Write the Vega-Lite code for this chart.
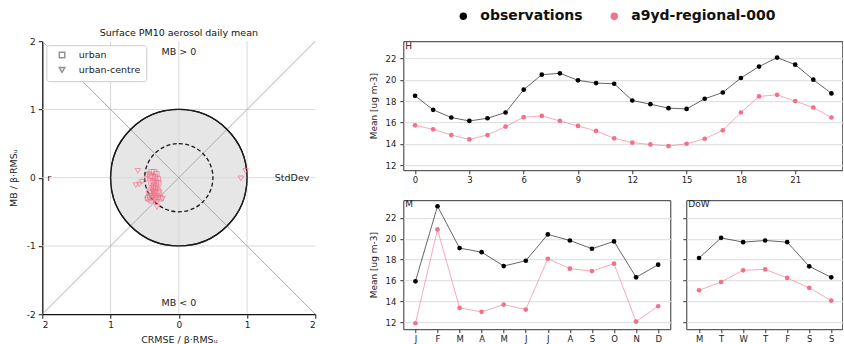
{
  "$schema": "https://vega.github.io/schema/vega-lite/v6.json",
  "padding": {"left": 8.3, "top": 9.2, "right": 0, "bottom": 0},
  "background": "white",
  "config": {
    "font": "DejaVu Sans",
    "axis": {"labelFontSize": 8.5, "titleFontSize": 9, "titleFontWeight": "normal", "labelColor": "#222", "titleColor": "#222", "tickColor": "#333", "domainColor": "#333", "tickSize": 3.5, "labelPadding": 2},
    "view": {"stroke": "#333", "strokeWidth": 1},
    "title": {"font": "DejaVu Sans", "fontWeight": "normal", "color": "#111"}
  },
  "datasets": {
    "hour": [
      {"h": 0, "series": "observations", "v": 18.51}, {"h": 1, "series": "observations", "v": 17.19}, {"h": 2, "series": "observations", "v": 16.47}, {"h": 3, "series": "observations", "v": 16.15}, {"h": 4, "series": "observations", "v": 16.40}, {"h": 5, "series": "observations", "v": 16.94}, {"h": 6, "series": "observations", "v": 19.08}, {"h": 7, "series": "observations", "v": 20.49}, {"h": 8, "series": "observations", "v": 20.62}, {"h": 9, "series": "observations", "v": 19.96}, {"h": 10, "series": "observations", "v": 19.70}, {"h": 11, "series": "observations", "v": 19.64}, {"h": 12, "series": "observations", "v": 18.07}, {"h": 13, "series": "observations", "v": 17.72}, {"h": 14, "series": "observations", "v": 17.35}, {"h": 15, "series": "observations", "v": 17.28}, {"h": 16, "series": "observations", "v": 18.23}, {"h": 17, "series": "observations", "v": 18.82}, {"h": 18, "series": "observations", "v": 20.18}, {"h": 19, "series": "observations", "v": 21.25}, {"h": 20, "series": "observations", "v": 22.09}, {"h": 21, "series": "observations", "v": 21.43}, {"h": 22, "series": "observations", "v": 20.02}, {"h": 23, "series": "observations", "v": 18.73},
      {"h": 0, "series": "a9yd-regional-000", "v": 15.74}, {"h": 1, "series": "a9yd-regional-000", "v": 15.36}, {"h": 2, "series": "a9yd-regional-000", "v": 14.83}, {"h": 3, "series": "a9yd-regional-000", "v": 14.42}, {"h": 4, "series": "a9yd-regional-000", "v": 14.83}, {"h": 5, "series": "a9yd-regional-000", "v": 15.62}, {"h": 6, "series": "a9yd-regional-000", "v": 16.50}, {"h": 7, "series": "a9yd-regional-000", "v": 16.62}, {"h": 8, "series": "a9yd-regional-000", "v": 16.15}, {"h": 9, "series": "a9yd-regional-000", "v": 15.68}, {"h": 10, "series": "a9yd-regional-000", "v": 15.21}, {"h": 11, "series": "a9yd-regional-000", "v": 14.52}, {"h": 12, "series": "a9yd-regional-000", "v": 14.11}, {"h": 13, "series": "a9yd-regional-000", "v": 13.95}, {"h": 14, "series": "a9yd-regional-000", "v": 13.79}, {"h": 15, "series": "a9yd-regional-000", "v": 14.01}, {"h": 16, "series": "a9yd-regional-000", "v": 14.48}, {"h": 17, "series": "a9yd-regional-000", "v": 15.27}, {"h": 18, "series": "a9yd-regional-000", "v": 16.94}, {"h": 19, "series": "a9yd-regional-000", "v": 18.45}, {"h": 20, "series": "a9yd-regional-000", "v": 18.60}, {"h": 21, "series": "a9yd-regional-000", "v": 18.01}, {"h": 22, "series": "a9yd-regional-000", "v": 17.41}, {"h": 23, "series": "a9yd-regional-000", "v": 16.47}
    ],
    "month": [
      {"m": 0, "series": "observations", "v": 15.92}, {"m": 1, "series": "observations", "v": 23.11}, {"m": 2, "series": "observations", "v": 19.10}, {"m": 3, "series": "observations", "v": 18.71}, {"m": 4, "series": "observations", "v": 17.38}, {"m": 5, "series": "observations", "v": 17.89}, {"m": 6, "series": "observations", "v": 20.41}, {"m": 7, "series": "observations", "v": 19.83}, {"m": 8, "series": "observations", "v": 19.04}, {"m": 9, "series": "observations", "v": 19.74}, {"m": 10, "series": "observations", "v": 16.30}, {"m": 11, "series": "observations", "v": 17.51},
      {"m": 0, "series": "a9yd-regional-000", "v": 11.90}, {"m": 1, "series": "a9yd-regional-000", "v": 20.89}, {"m": 2, "series": "a9yd-regional-000", "v": 13.37}, {"m": 3, "series": "a9yd-regional-000", "v": 12.99}, {"m": 4, "series": "a9yd-regional-000", "v": 13.69}, {"m": 5, "series": "a9yd-regional-000", "v": 13.21}, {"m": 6, "series": "a9yd-regional-000", "v": 18.08}, {"m": 7, "series": "a9yd-regional-000", "v": 17.13}, {"m": 8, "series": "a9yd-regional-000", "v": 16.90}, {"m": 9, "series": "a9yd-regional-000", "v": 17.61}, {"m": 10, "series": "a9yd-regional-000", "v": 12.06}, {"m": 11, "series": "a9yd-regional-000", "v": 13.53}
    ],
    "dow": [
      {"d": 0, "series": "observations", "v": 18.15}, {"d": 1, "series": "observations", "v": 20.08}, {"d": 2, "series": "observations", "v": 19.67}, {"d": 3, "series": "observations", "v": 19.83}, {"d": 4, "series": "observations", "v": 19.67}, {"d": 5, "series": "observations", "v": 17.35}, {"d": 6, "series": "observations", "v": 16.30},
      {"d": 0, "series": "a9yd-regional-000", "v": 15.06}, {"d": 1, "series": "a9yd-regional-000", "v": 15.85}, {"d": 2, "series": "a9yd-regional-000", "v": 16.97}, {"d": 3, "series": "a9yd-regional-000", "v": 17.06}, {"d": 4, "series": "a9yd-regional-000", "v": 16.24}, {"d": 5, "series": "a9yd-regional-000", "v": 15.29}, {"d": 6, "series": "a9yd-regional-000", "v": 14.07}
    ],
    "circles": [{"r": 1, "kind": "solid"}, {"r": 0.5, "kind": "dashed"}],
    "grid": [
      {"x": -1, "x2": -1, "y": -2, "y2": 2}, {"x": 0, "x2": 0, "y": -2, "y2": 2}, {"x": 1, "x2": 1, "y": -2, "y2": 2},
      {"x": -2, "x2": 2, "y": -1, "y2": -1}, {"x": -2, "x2": 2, "y": 0, "y2": 0}, {"x": -2, "x2": 2, "y": 1, "y2": 1}
    ],
    "diag": [{"x": -2, "x2": 2, "y": -2, "y2": 2}, {"x": -2, "x2": 2, "y": 2, "y2": -2}],
    "labels": [{"t": "MB > 0", "x": 0, "y": 1.84}, {"t": "MB < 0", "x": 0, "y": -1.84}, {"t": "r", "x": -1.9, "y": 0}, {"t": "StdDev", "x": 1.66, "y": 0}],
    "target": [
      {"type": "urban", "x": -0.40, "y": 0.08}, {"type": "urban", "x": -0.36, "y": 0.08}, {"type": "urban", "x": -0.33, "y": 0.05}, {"type": "urban", "x": -0.42, "y": 0.03}, {"type": "urban", "x": -0.38, "y": 0.02}, {"type": "urban", "x": -0.35, "y": 0.0}, {"type": "urban", "x": -0.31, "y": -0.02}, {"type": "urban", "x": -0.37, "y": -0.05}, {"type": "urban", "x": -0.34, "y": -0.07}, {"type": "urban", "x": -0.40, "y": -0.08}, {"type": "urban", "x": -0.30, "y": -0.08}, {"type": "urban", "x": -0.36, "y": -0.11}, {"type": "urban", "x": -0.33, "y": -0.13}, {"type": "urban", "x": -0.38, "y": -0.15}, {"type": "urban", "x": -0.35, "y": -0.17}, {"type": "urban", "x": -0.41, "y": -0.19}, {"type": "urban", "x": -0.31, "y": -0.19}, {"type": "urban", "x": -0.36, "y": -0.21}, {"type": "urban", "x": -0.43, "y": -0.22}, {"type": "urban", "x": -0.33, "y": -0.23}, {"type": "urban", "x": -0.39, "y": -0.25}, {"type": "urban", "x": -0.29, "y": -0.22}, {"type": "urban", "x": -0.35, "y": -0.27}, {"type": "urban", "x": -0.42, "y": -0.28}, {"type": "urban", "x": -0.31, "y": -0.28}, {"type": "urban", "x": -0.37, "y": -0.30}, {"type": "urban", "x": -0.45, "y": -0.30}, {"type": "urban", "x": -0.27, "y": -0.30}, {"type": "urban", "x": -0.33, "y": -0.32}, {"type": "urban", "x": -0.40, "y": -0.33},
      {"type": "urban-centre", "x": -0.60, "y": 0.10}, {"type": "urban-centre", "x": -0.63, "y": -0.11}, {"type": "urban-centre", "x": -0.58, "y": -0.10}, {"type": "urban-centre", "x": -0.54, "y": -0.06}, {"type": "urban-centre", "x": -0.47, "y": -0.02}, {"type": "urban-centre", "x": 0.91, "y": -0.01}, {"type": "urban-centre", "x": 0.98, "y": 0.10}, {"type": "urban-centre", "x": -0.32, "y": -0.43}, {"type": "urban-centre", "x": -0.46, "y": -0.32}, {"type": "urban-centre", "x": -0.24, "y": -0.31}, {"type": "urban-centre", "x": -0.44, "y": 0.05}, {"type": "urban-centre", "x": -0.38, "y": -0.20}
    ]
  },
  "bounds": "flush",
  "spacing": 88,
  "resolve": {"scale": {"color": "independent", "shape": "independent"}},
  "hconcat": [
    {
      "width": 273, "height": 273,
      "view": {"stroke": null},
      "title": {"text": "Surface PM10 aerosol daily mean", "fontSize": 9.5, "offset": 0, "anchor": "middle"},
      "layer": [
        {
          "data": {"name": "circles"},
          "transform": [{"filter": "datum.kind === 'solid'"}],
          "mark": {"type": "arc", "theta": 0, "theta2": 6.2832, "fill": "#e6e6e6", "stroke": "#1a1a1a", "strokeWidth": 1.3},
          "encoding": {"radius": {"field": "r", "type": "quantitative", "scale": {"type": "linear", "domain": [0, 2], "range": [0, 136.5], "zero": true}}}
        },
        {
          "data": {"name": "grid"},
          "mark": {"type": "rule", "color": "#d9d9d9", "strokeWidth": 1},
          "encoding": {
            "x": {"field": "x", "type": "quantitative", "scale": {"domain": [-2, 2], "nice": false, "zero": false},
              "axis": {"values": [-2, -1, 0, 1, 2], "labelExpr": "'' + abs(datum.value)", "title": "CRMSE / β·RMSᵤ", "grid": false, "domainColor": "#111", "domainWidth": 1.3, "tickColor": "#111", "tickSize": 4, "labelPadding": 2, "titlePadding": 5, "labelFontSize": 9, "titleFontSize": 9.5}},
            "x2": {"field": "x2"},
            "y": {"field": "y", "type": "quantitative", "scale": {"domain": [-2, 2], "nice": false, "zero": false},
              "axis": {"values": [-2, -1, 0, 1, 2], "labelExpr": "'' + datum.value", "title": "MB / β·RMSᵤ", "grid": false, "domainColor": "#111", "domainWidth": 1.3, "tickColor": "#111", "tickSize": 4, "labelPadding": 3, "titlePadding": 8, "labelFontSize": 9, "titleFontSize": 9.5}},
            "y2": {"field": "y2"}
          }
        },
        {
          "data": {"name": "diag"},
          "mark": {"type": "rule", "color": "#aaaaaa", "strokeWidth": 1},
          "encoding": {"x": {"field": "x", "type": "quantitative"}, "x2": {"field": "x2"}, "y": {"field": "y", "type": "quantitative"}, "y2": {"field": "y2"}}
        },
        {
          "data": {"name": "circles"},
          "transform": [{"filter": "datum.kind === 'solid'"}],
          "mark": {"type": "arc", "theta": 0, "theta2": 6.2832, "filled": false, "color": "#1a1a1a", "strokeWidth": 1.3},
          "encoding": {"radius": {"field": "r", "type": "quantitative"}}
        },
        {
          "data": {"name": "circles"},
          "transform": [{"filter": "datum.kind === 'dashed'"}],
          "mark": {"type": "arc", "theta": 0, "theta2": 6.2832, "filled": false, "color": "#1a1a1a", "strokeWidth": 1.3, "strokeDash": [4, 2.5]},
          "encoding": {"radius": {"field": "r", "type": "quantitative"}}
        },
        {
          "data": {"name": "labels"},
          "mark": {"type": "text", "fontSize": 9.5, "color": "#222", "align": "center", "baseline": "middle"},
          "encoding": {"x": {"field": "x", "type": "quantitative"}, "y": {"field": "y", "type": "quantitative"}, "text": {"field": "t"}}
        },
        {
          "data": {"name": "target"},
          "mark": {"type": "point", "filled": false, "color": "#f2718a", "size": 30, "strokeWidth": 1},
          "encoding": {
            "x": {"field": "x", "type": "quantitative"},
            "y": {"field": "y", "type": "quantitative"},
            "shape": {"field": "type", "type": "nominal", "scale": {"domain": ["urban", "urban-centre"], "range": ["square", "triangle-down"]},
              "legend": {"orient": "top-left", "title": null, "offset": 4, "fillColor": "white", "strokeColor": "#cccccc", "cornerRadius": 3, "padding": 5, "labelFontSize": 9.5, "labelColor": "#222", "symbolSize": 30, "symbolOffset": 6, "labelOffset": 12, "rowPadding": 3, "symbolStrokeColor": "#666", "symbolFillColor": "transparent"}}
          }
        }
      ]
    },
    {
      "bounds": "flush",
      "spacing": 30,
      "vconcat": [
        {
          "width": 439, "height": 129,
          "data": {"name": "hour"},
          "title": {"text": "H", "anchor": "start", "frame": "group", "offset": -9.5, "fontSize": 9, "dx": 2, "color": "#222"},
          "encoding": {
            "x": {"field": "h", "type": "quantitative", "scale": {"domain": [-0.65, 23.6], "nice": false, "zero": false},
              "axis": {"values": [0, 3, 6, 9, 12, 15, 18, 21], "title": null, "grid": false, "domain": false, "labelPadding": 2}},
            "y": {"field": "v", "type": "quantitative", "scale": {"domain": [11.53, 23.63], "nice": false, "zero": false},
              "axis": {"values": [12, 14, 16, 18, 20, 22], "title": "Mean [ug m-3]", "grid": true, "gridColor": "#e3e3e3", "gridWidth": 1.2, "domain": false, "labelPadding": 4, "titlePadding": 6}},
            "color": {"field": "series", "type": "nominal", "scale": {"domain": ["observations", "a9yd-regional-000"], "range": ["#000000", "#f2718a"]},
              "legend": {"orient": "none", "legendX": 53, "legendY": -32, "direction": "horizontal", "title": null, "labelFontSize": 14, "labelFontWeight": "bold", "labelColor": "#111", "symbolSize": 55, "symbolType": "circle", "symbolOpacity": 1, "symbolStrokeWidth": 0, "labelOffset": 10, "columnPadding": 24, "padding": 0}}
          },
          "layer": [
            {"mark": {"type": "line", "strokeWidth": 1, "strokeOpacity": 0.6}},
            {"mark": {"type": "point", "filled": true, "size": 22, "opacity": 1}}
          ]
        },
        {
          "bounds": "flush",
          "spacing": 16,
          "hconcat": [
            {
              "width": 267, "height": 129,
              "data": {"name": "month"},
              "title": {"text": "M", "anchor": "start", "frame": "group", "offset": -9, "fontSize": 9, "dx": 2, "color": "#222"},
              "encoding": {
                "x": {"field": "m", "type": "quantitative", "scale": {"domain": [-0.55, 11.55], "nice": false, "zero": false},
                  "axis": {"values": [0, 1, 2, 3, 4, 5, 6, 7, 8, 9, 10, 11], "labelExpr": "['J','F','M','A','M','J','J','A','S','O','N','D'][datum.value]", "title": null, "grid": false, "domain": false, "labelPadding": 1.5}},
                "y": {"field": "v", "type": "quantitative", "scale": {"domain": [11.33, 23.69], "nice": false, "zero": false},
                  "axis": {"values": [12, 14, 16, 18, 20, 22], "title": "Mean [ug m-3]", "grid": true, "gridColor": "#e3e3e3", "gridWidth": 1.2, "domain": false, "labelPadding": 4, "titlePadding": 6}},
                "color": {"field": "series", "type": "nominal"}
              },
              "layer": [
                {"mark": {"type": "line", "strokeWidth": 1, "strokeOpacity": 0.6}},
                {"mark": {"type": "point", "filled": true, "size": 22, "opacity": 1}}
              ]
            },
            {
              "width": 156, "height": 129,
              "data": {"name": "dow"},
              "title": {"text": "DoW", "anchor": "start", "frame": "group", "offset": -9, "fontSize": 9, "dx": 2, "color": "#222"},
              "encoding": {
                "x": {"field": "d", "type": "quantitative", "scale": {"domain": [-0.58, 6.5], "nice": false, "zero": false},
                  "axis": {"values": [0, 1, 2, 3, 4, 5, 6], "labelExpr": "['M','T','W','T','F','S','S'][datum.value]", "title": null, "grid": false, "domain": false, "labelPadding": 1.5}},
                "y": {"field": "v", "type": "quantitative", "scale": {"domain": [11.33, 23.69], "nice": false, "zero": false},
                  "axis": {"values": [12, 14, 16, 18, 20, 22], "title": null, "labels": false, "grid": true, "gridColor": "#e3e3e3", "gridWidth": 1.2, "domain": false}},
                "color": {"field": "series", "type": "nominal"}
              },
              "layer": [
                {"mark": {"type": "line", "strokeWidth": 1, "strokeOpacity": 0.6}},
                {"mark": {"type": "point", "filled": true, "size": 22, "opacity": 1}}
              ]
            }
          ]
        }
      ]
    }
  ]
}
